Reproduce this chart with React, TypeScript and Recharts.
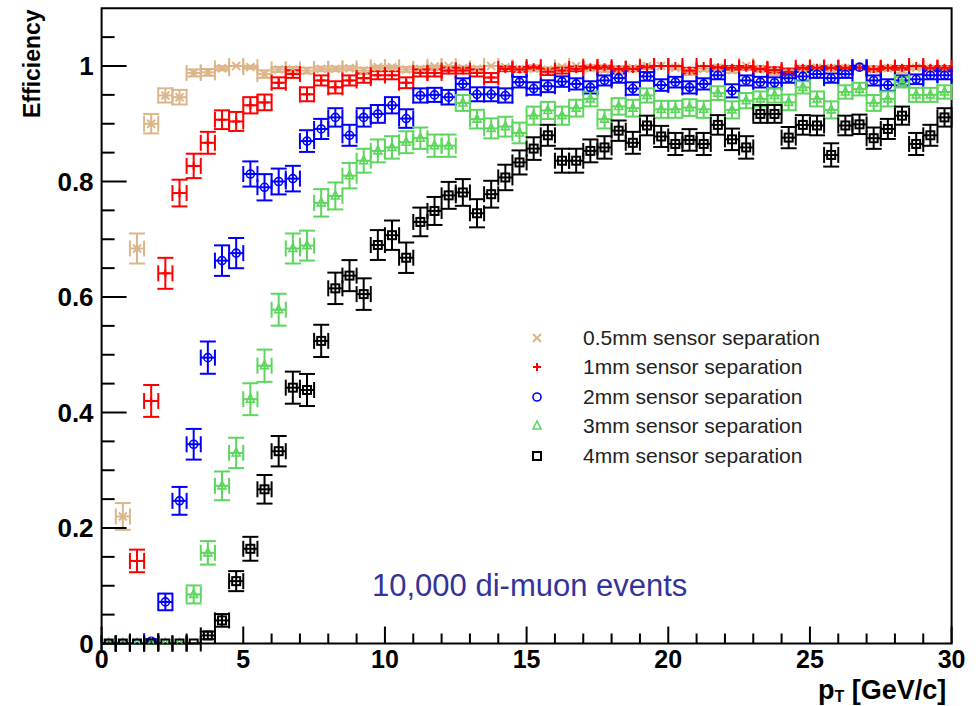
import React from 'react'
import { ScatterChart, Scatter, XAxis, YAxis, ErrorBar, ReferenceArea, Legend } from 'recharts'

// pT bin centres (0.5 GeV/c bins)
const PT_BINS = [
  0.25, 0.75, 1.25, 1.75, 2.25, 2.75, 3.25, 3.75, 4.25, 4.75,
  5.25, 5.75, 6.25, 6.75, 7.25, 7.75, 8.25, 8.75, 9.25, 9.75,
  10.25, 10.75, 11.25, 11.75, 12.25, 12.75, 13.25, 13.75, 14.25, 14.75,
  15.25, 15.75, 16.25, 16.75, 17.25, 17.75, 18.25, 18.75, 19.25, 19.75,
  20.25, 20.75, 21.25, 21.75, 22.25, 22.75, 23.25, 23.75, 24.25, 24.75,
  25.25, 25.75, 26.25, 26.75, 27.25, 27.75, 28.25, 28.75, 29.25, 29.75,
]

const EFF_05MM = [
  0, 0.22, 0.684, 0.9, 0.949, 0.946, 0.988, 0.989, 0.996, 1.0,
  0.998, 0.986, 0.994, 0.994, 0.992, 0.995, 0.995, 0.996, 0.992, 0.998,
  0.998, 0.994, 0.995, 0.999, 1.0, 0.996, 0.995, 1.0, 0.998, 0.995,
  0.995, 0.993, 0.998, 1.0, 0.996, 0.994, 0.993, 0.996, 1.0, 1.0,
  0.997, 0.99, 0.995, 0.997, 0.993, 1.0, 0.995, 0.99, 0.988, 0.995,
  0.997, 0.996, 0.996, 0.998, 0.994, 0.996, 0.993, 0.997, 0.995, 0.994,
]
const EFF_1MM = [
  0, 0, 0.143, 0.42, 0.641, 0.78, 0.827, 0.867, 0.907, 0.904,
  0.932, 0.937, 0.971, 0.986, 0.951, 0.975, 0.963, 0.975, 0.979, 0.984,
  0.984, 0.971, 0.988, 0.988, 0.992, 0.992, 0.988, 0.98, 0.995, 0.994,
  0.998, 0.99, 0.992, 0.995, 0.998, 0.998, 0.995, 0.995, 0.998, 1.0,
  1.0, 0.992, 1.0, 0.998, 0.997, 0.997, 0.995, 0.993, 0.99, 0.997,
  0.997, 0.997, 0.997, 0.997, 0.995, 0.997, 0.997, 1.0, 0.997, 0.997,
]
const EFF_2MM = [
  0, 0, 0, 0.004, 0.072, 0.247, 0.345, 0.495, 0.663, 0.676,
  0.813, 0.79, 0.8, 0.805, 0.87, 0.891, 0.911, 0.88, 0.911, 0.917,
  0.932, 0.909, 0.949, 0.95, 0.946, 0.969, 0.951, 0.951, 0.949, 0.972,
  0.961, 0.965, 0.973, 0.969, 0.963, 0.975, 0.979, 0.961, 0.982, 0.967,
  0.972, 0.963, 0.969, 0.984, 0.957, 0.975, 0.972, 0.971, 0.979, 0.982,
  0.986, 0.979, 0.986, 0.998, 0.975, 0.967, 0.975, 0.977, 0.984, 0.984,
]
const EFF_3MM = [
  0, 0, 0, 0, 0, 0, 0.085, 0.157, 0.273, 0.33,
  0.423, 0.481, 0.578, 0.684, 0.689, 0.763, 0.775, 0.81, 0.836, 0.853,
  0.859, 0.868, 0.875, 0.862, 0.862, 0.936, 0.908, 0.892, 0.895, 0.884,
  0.914, 0.923, 0.914, 0.927, 0.943, 0.908, 0.93, 0.927, 0.949, 0.925,
  0.925, 0.928, 0.925, 0.953, 0.924, 0.94, 0.943, 0.949, 0.937, 0.963,
  0.943, 0.924, 0.955, 0.96, 0.936, 0.943, 0.972, 0.95, 0.95, 0.955,
]
const EFF_4MM = [
  0, 0, 0, 0, 0, 0, 0, 0.014, 0.04, 0.108,
  0.164, 0.267, 0.333, 0.443, 0.439, 0.524, 0.615, 0.637, 0.605, 0.69,
  0.707, 0.668, 0.73, 0.749, 0.776, 0.781, 0.745, 0.778, 0.807, 0.833,
  0.857, 0.88, 0.836, 0.836, 0.853, 0.859, 0.888, 0.867, 0.897, 0.878,
  0.865, 0.872, 0.865, 0.898, 0.873, 0.859, 0.917, 0.917, 0.876, 0.898,
  0.897, 0.846, 0.897, 0.899, 0.875, 0.891, 0.914, 0.865, 0.88, 0.911,
]

const X_TICKS = [
  0, 1, 2, 3, 4, 5, 6, 7, 8, 9, 10, 11, 12, 13, 14, 15,
  16, 17, 18, 19, 20, 21, 22, 23, 24, 25, 26, 27, 28, 29, 30,
]
const Y_TICKS = [
  0, 0.05, 0.1, 0.15, 0.2, 0.25, 0.3, 0.35, 0.4, 0.45, 0.5,
  0.55, 0.6, 0.65, 0.7, 0.75, 0.8, 0.85, 0.9, 0.95, 1, 1.05,
]

// events per bin, used for the binomial error on each efficiency
const EVENTS_PER_BIN = 320
const HALF_BIN = 0.25

const FONT = "'Liberation Sans', Arial, Helvetica, sans-serif"

type MarkerKind = 'x' | 'plus' | 'circle' | 'triangle' | 'square'

const SERIES: { name: string; color: string; marker: MarkerKind; values: number[] }[] = [
  { name: '0.5mm sensor separation', color: '#dcb68a', marker: 'x', values: EFF_05MM },
  { name: '1mm sensor separation', color: '#ff0000', marker: 'plus', values: EFF_1MM },
  { name: '2mm sensor separation', color: '#0000ff', marker: 'circle', values: EFF_2MM },
  { name: '3mm sensor separation', color: '#5cd65c', marker: 'triangle', values: EFF_3MM },
  { name: '4mm sensor separation', color: '#000000', marker: 'square', values: EFF_4MM },
]

const binomialError = (eff: number) => Math.sqrt((eff * (1 - eff)) / EVENTS_PER_BIN)

const toRows = (values: number[]) =>
  PT_BINS.map((pt, i) => ({ pt, eff: values[i], ex: HALF_BIN, ey: binomialError(values[i]) }))

function Marker({ kind, cx, cy, color }: { kind: MarkerKind; cx: number; cy: number; color: string }) {
  const s = 4
  switch (kind) {
    case 'x':
      return (
        <g stroke={color} strokeWidth={2}>
          <line x1={cx - s} y1={cy - s} x2={cx + s} y2={cy + s} />
          <line x1={cx - s} y1={cy + s} x2={cx + s} y2={cy - s} />
        </g>
      )
    case 'plus':
      return (
        <g stroke={color} strokeWidth={2}>
          <line x1={cx - s} y1={cy} x2={cx + s} y2={cy} />
          <line x1={cx} y1={cy - s} x2={cx} y2={cy + s} />
        </g>
      )
    case 'circle':
      return <circle cx={cx} cy={cy} r={s} fill="none" stroke={color} strokeWidth={1.6} />
    case 'triangle':
      return (
        <polygon
          points={`${cx},${cy - s - 1} ${cx - s},${cy + s - 1} ${cx + s},${cy + s - 1}`}
          fill="none"
          stroke={color}
          strokeWidth={1.6}
        />
      )
    default:
      return <rect x={cx - s} y={cy - s} width={2 * s} height={2 * s} fill="none" stroke={color} strokeWidth={2} />
  }
}

function XTick({ x, y, payload }: any) {
  const v = payload.value
  const major = v % 5 === 0
  return (
    <g>
      <line x1={x} x2={x} y1={y} y2={y - (major ? 17 : 10)} stroke="#000" strokeWidth={2} />
      {major && (
        <text x={x} y={y + 7} dy="0.71em" textAnchor="middle" fontFamily={FONT} fontWeight="bold" fontSize={25} fill="#000">
          {v}
        </text>
      )}
    </g>
  )
}

function YTick({ x, y, payload }: any) {
  const v = payload.value
  const major = Math.abs(v * 5 - Math.round(v * 5)) < 1e-6
  return (
    <g>
      <line x1={x} x2={x + (major ? 25 : 13)} y1={y} y2={y} stroke="#000" strokeWidth={2} />
      {major && (
        <text x={x - 8} y={y} dy="0.36em" textAnchor="end" fontFamily={FONT} fontWeight="bold" fontSize={26} fill="#000">
          {String(Math.round(v * 10) / 10)}
        </text>
      )}
    </g>
  )
}

function LegendBox() {
  return (
    <div style={{ fontFamily: FONT, fontSize: 21, color: '#222' }}>
      {SERIES.map(s => (
        <div key={s.name} style={{ display: 'flex', alignItems: 'center', height: 29.5 }}>
          <svg width={16} height={16} style={{ flex: 'none' }}>
            <Marker kind={s.marker} cx={8} cy={8} color={s.color} />
          </svg>
          <span style={{ marginLeft: 38, whiteSpace: 'nowrap' }}>{s.name}</span>
        </div>
      ))}
    </div>
  )
}

export default function App() {
  return (
    <div style={{ position: 'absolute', left: 0, top: 0, width: 976, height: 706, background: '#fff' }}>
      <ScatterChart width={976} height={706} margin={{ top: 8.25, right: 24.4, bottom: 0, left: 0 }}>
        <XAxis
          type="number"
          dataKey="pt"
          domain={[0, 30]}
          ticks={X_TICKS}
          interval={0}
          tickSize={0}
          tickMargin={0}
          axisLine={false}
          tick={<XTick />}
          height={62.5}
          allowDataOverflow
        />
        <YAxis
          type="number"
          dataKey="eff"
          domain={[0, 1.1]}
          ticks={Y_TICKS}
          interval={0}
          tickSize={0}
          tickMargin={0}
          axisLine={false}
          tick={<YTick />}
          width={101.6}
          allowDataOverflow
        />
        <ReferenceArea x1={0} x2={30} y1={0} y2={1.1} fill="none" stroke="#000" strokeWidth={2} />
        {SERIES.map(s => (
          <Scatter
            key={s.name}
            name={s.name}
            data={toRows(s.values)}
            fill={s.color}
            isAnimationActive={false}
            shape={(p: any) => <Marker kind={s.marker} cx={p.cx} cy={p.cy} color={s.color} />}
          >
            <ErrorBar dataKey="ey" direction="y" width={8} stroke={s.color} strokeWidth={2} />
            <ErrorBar dataKey="ex" direction="x" width={8} stroke={s.color} strokeWidth={2} />
          </Scatter>
        ))}
        <Legend
          layout="vertical"
          align="center"
          verticalAlign="middle"
          wrapperStyle={{ left: 529, top: 323, width: 340 }}
          content={() => <LegendBox />}
        />
      </ScatterChart>
      <svg width={976} height={706} style={{ position: 'absolute', left: 0, top: 0, pointerEvents: 'none' }}>
        <text
          transform="translate(40, 118) rotate(-90)"
          fontFamily={FONT}
          fontWeight="bold"
          fontSize={23}
          fill="#000"
        >
          Efficiency
        </text>
        <text x={818} y={699} fontFamily={FONT} fontWeight="bold" fontSize={27} fill="#000">
          p<tspan fontSize={16} dy={3}>T</tspan>
          <tspan dy={-3}> [GeV/c]</tspan>
        </text>
        <text x={372} y={596} fontFamily={FONT} fontSize={31} fill="#333399">
          10,000 di-muon events
        </text>
      </svg>
    </div>
  )
}
